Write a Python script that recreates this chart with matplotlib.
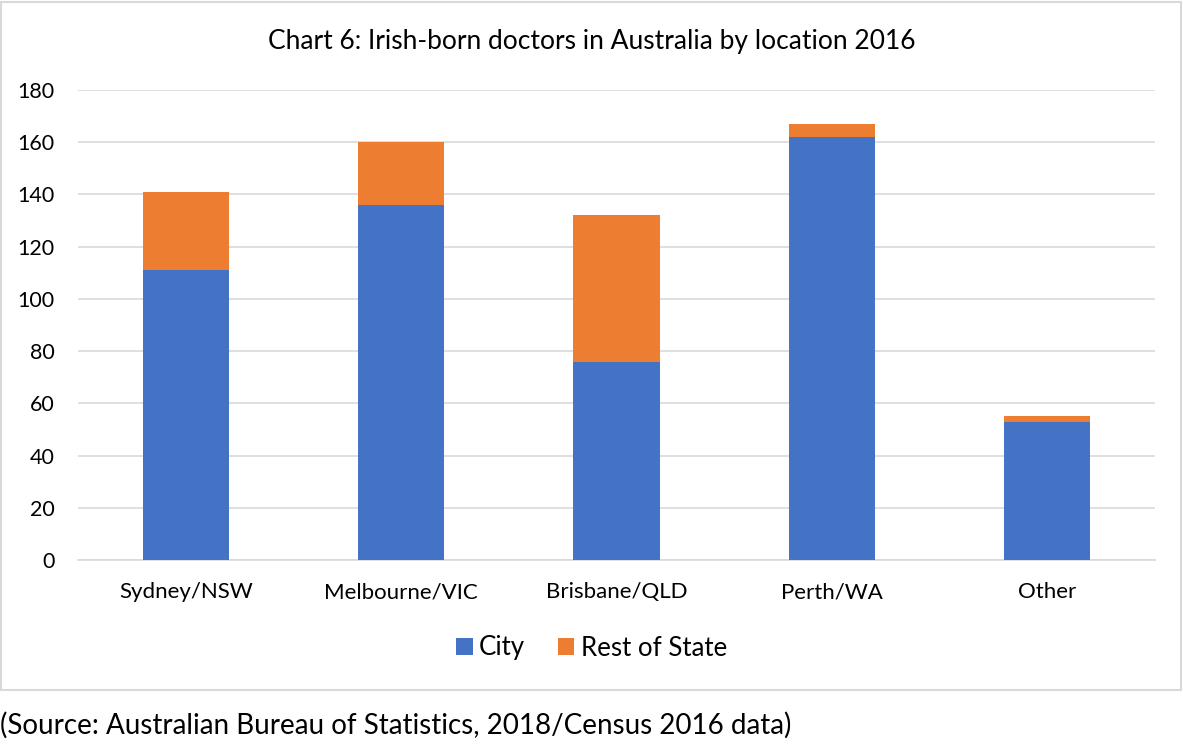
import matplotlib
matplotlib.use("Agg")
from matplotlib import pyplot as plt
from matplotlib.patches import Rectangle

plt.rcParams['font.family'] = ['Lato', 'DejaVu Sans']

locations = ['Sydney/NSW', 'Melbourne/VIC', 'Brisbane/QLD', 'Perth/WA', 'Other']
city = [111, 136, 76, 162, 53]
rest_of_state = [30, 24, 56, 5, 2]
y_ticks = [0, 20, 40, 60, 80, 100, 120, 140, 160, 180]

fig = plt.figure(figsize=(11.83, 7.49), dpi=100)
ax = fig.add_axes([78 / 1183, 1 - 560 / 749, (1155 - 78) / 1183, 470 / 749])

ax.bar(locations, city, width=0.4, color='#4472C4', label='City', zorder=3)
ax.bar(locations, rest_of_state, width=0.4, bottom=city, color='#ED7D31',
       label='Rest of State', zorder=3)

ax.set_ylim(0, 180)
ax.set_xlim(-0.5, len(locations) - 0.5)
ax.set_yticks(y_ticks)
ax.grid(axis='y', color='#D9D9D9', linewidth=1.2, zorder=0)

for s in ['top', 'left', 'right']:
    ax.spines[s].set_visible(False)
ax.spines['bottom'].set_color('#D9D9D9')
ax.spines['bottom'].set_linewidth(1.2)

ax.tick_params(axis='both', length=0, colors='black')
ax.tick_params(axis='y', pad=17, labelsize=15.5)
ax.tick_params(axis='x', pad=16, labelsize=16)

fig.text(0.5, 1 - 42 / 749, 'Chart 6: Irish-born doctors in Australia by location 2016',
         ha='center', va='center', fontsize=19)

fig.legend(loc='center', bbox_to_anchor=(0.5, 1 - 648 / 749), ncol=2, frameon=False,
           fontsize=18.6, handlelength=0.65, handleheight=0.65, columnspacing=1.25,
           handletextpad=0.25)

fig.patches.append(Rectangle((1 / 1183, 1 - 690 / 749), 1180 / 1183, 688 / 749,
                             transform=fig.transFigure, fill=False,
                             edgecolor='#D9D9D9', linewidth=1.5))

fig.text(0.0, 1 - 725 / 749, '(Source: Australian Bureau of Statistics, 2018/Census 2016 data)',
         ha='left', va='center', fontsize=20)

fig.savefig('out.png', dpi=100, facecolor='white')
